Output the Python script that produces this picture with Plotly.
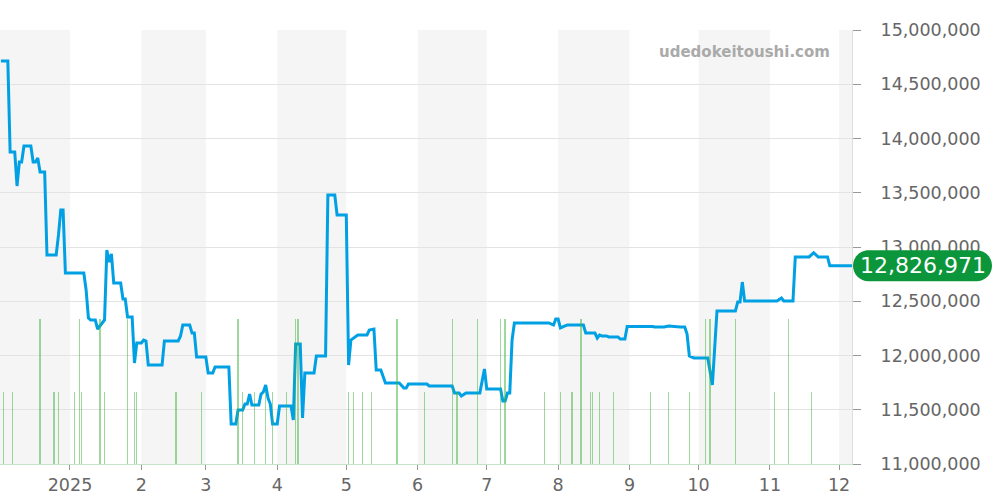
import pandas as pd
import plotly.graph_objects as go

# ── Data ──────────────────────────────────────────────────────────────────────

price_dates = [
    "2024-12-02", "2024-12-05", "2024-12-06", "2024-12-08", "2024-12-09", "2024-12-10",
    "2024-12-11", "2024-12-12", "2024-12-15", "2024-12-16", "2024-12-17", "2024-12-18",
    "2024-12-19", "2024-12-21", "2024-12-22", "2024-12-26", "2024-12-27", "2024-12-28",
    "2024-12-29", "2024-12-30", "2025-01-07", "2025-01-08", "2025-01-09", "2025-01-10",
    "2025-01-12", "2025-01-13", "2025-01-14", "2025-01-16", "2025-01-17", "2025-01-18",
    "2025-01-19", "2025-01-20", "2025-01-23", "2025-01-24", "2025-01-25", "2025-01-26",
    "2025-01-28", "2025-01-29", "2025-01-30", "2025-02-01", "2025-02-02", "2025-02-03",
    "2025-02-04", "2025-02-10", "2025-02-11", "2025-02-17", "2025-02-18", "2025-02-19",
    "2025-02-22", "2025-02-23", "2025-02-24", "2025-02-25", "2025-03-01", "2025-03-02",
    "2025-03-04", "2025-03-05", "2025-03-11", "2025-03-12", "2025-03-14", "2025-03-15",
    "2025-03-17", "2025-03-18", "2025-03-19", "2025-03-20", "2025-03-21", "2025-03-24",
    "2025-03-25", "2025-03-26", "2025-03-27", "2025-03-28", "2025-03-29", "2025-03-30",
    "2025-04-01", "2025-04-02", "2025-04-07", "2025-04-08", "2025-04-09", "2025-04-11",
    "2025-04-12", "2025-04-13", "2025-04-17", "2025-04-18", "2025-04-22", "2025-04-23",
    "2025-04-26", "2025-04-27", "2025-05-01", "2025-05-02", "2025-05-03", "2025-05-05",
    "2025-05-06", "2025-05-10", "2025-05-11", "2025-05-13", "2025-05-14", "2025-05-16",
    "2025-05-18", "2025-05-24", "2025-05-26", "2025-05-27", "2025-05-28", "2025-06-05",
    "2025-06-06", "2025-06-16", "2025-06-17", "2025-06-19", "2025-06-20", "2025-06-22",
    "2025-06-28", "2025-06-30", "2025-07-01", "2025-07-07", "2025-07-08", "2025-07-09",
    "2025-07-10", "2025-07-11", "2025-07-12", "2025-07-13", "2025-07-28", "2025-07-30",
    "2025-07-31", "2025-08-01", "2025-08-02", "2025-08-04", "2025-08-05", "2025-08-12",
    "2025-08-13", "2025-08-17", "2025-08-18", "2025-08-19", "2025-08-20", "2025-08-22",
    "2025-08-23", "2025-08-27", "2025-08-28", "2025-08-30", "2025-08-31", "2025-09-11",
    "2025-09-12", "2025-09-16", "2025-09-18", "2025-09-23", "2025-09-25", "2025-09-26",
    "2025-09-27", "2025-09-29", "2025-10-05", "2025-10-07", "2025-10-09", "2025-10-17",
    "2025-10-18", "2025-10-19", "2025-10-20", "2025-10-21", "2025-11-04", "2025-11-06",
    "2025-11-07", "2025-11-11", "2025-11-12", "2025-11-18", "2025-11-20", "2025-11-22",
    "2025-11-26", "2025-11-27", "2025-12-07",
]

prices = [
    14714000, 14714000, 13876000, 13876000, 13562000, 13783000,
    13783000, 13931000, 13931000, 13783000, 13783000, 13820000,
    13691000, 13691000, 12926000, 12926000, 13111000, 13341000,
    13341000, 12760000, 12760000, 12604000, 12346000, 12327000,
    12327000, 12244000, 12272000, 12327000, 12972000, 12862000,
    12936000, 12668000, 12668000, 12521000, 12521000, 12355000,
    12355000, 11931000, 12115000, 12115000, 12143000, 12134000,
    11912000, 11912000, 12134000, 12134000, 12180000, 12281000,
    12281000, 12207000, 12207000, 11986000, 11986000, 11839000,
    11839000, 11894000, 11894000, 11369000, 11369000, 11498000,
    11498000, 11553000, 11553000, 11645000, 11544000, 11544000,
    11645000, 11664000, 11728000, 11608000, 11553000, 11369000,
    11369000, 11535000, 11535000, 11406000, 12106000, 12106000,
    11424000, 11839000, 11839000, 11995000, 11995000, 13479000,
    13479000, 13295000, 13295000, 11912000, 12143000, 12171000,
    12189000, 12189000, 12235000, 12244000, 11866000, 11866000,
    11747000, 11747000, 11701000, 11701000, 11737000, 11737000,
    11719000, 11719000, 11654000, 11654000, 11627000, 11654000,
    11654000, 11876000, 11691000, 11691000, 11581000, 11581000,
    11654000, 11654000, 12143000, 12300000, 12300000, 12281000,
    12336000, 12336000, 12254000, 12272000, 12281000, 12281000,
    12207000, 12207000, 12161000, 12189000, 12180000, 12180000,
    12171000, 12171000, 12152000, 12152000, 12268000, 12268000,
    12263000, 12263000, 12272000, 12263000, 12263000, 12198000,
    11995000, 11977000, 11977000, 11728000, 12410000, 12410000,
    12493000, 12493000, 12677000, 12502000, 12502000, 12530000,
    12502000, 12502000, 12908000, 12908000, 12947000, 12908000,
    12908000, 12826971, 12826971,
]

volume_dates = [
    "2024-12-03", "2024-12-07", "2024-12-19", "2024-12-25", "2024-12-27", "2025-01-03",
    "2025-01-05", "2025-01-06", "2025-01-14", "2025-01-16", "2025-01-26", "2025-01-29",
    "2025-01-30", "2025-02-16", "2025-02-27", "2025-03-15", "2025-03-17", "2025-03-22",
    "2025-03-27", "2025-03-30", "2025-04-05", "2025-04-09", "2025-04-10", "2025-05-02",
    "2025-05-04", "2025-05-08", "2025-05-12", "2025-05-23", "2025-06-04", "2025-06-16",
    "2025-06-18", "2025-06-27", "2025-07-07", "2025-07-09", "2025-07-26", "2025-08-02",
    "2025-08-07", "2025-08-11", "2025-08-15", "2025-08-16", "2025-08-19", "2025-08-25",
    "2025-09-10", "2025-09-18", "2025-09-27", "2025-10-04", "2025-10-06", "2025-10-17",
    "2025-11-03", "2025-11-09", "2025-11-19",
]

volumes = [
    1, 1, 2, 1, 1, 1,
    2, 1, 2, 1, 2, 1,
    1, 1, 1, 2, 1, 1,
    1, 1, 1, 2, 2, 1,
    1, 1, 1, 2, 1, 2,
    1, 2, 2, 2, 1, 1,
    1, 2, 1, 1, 1, 1,
    1, 1, 1, 2, 2, 2,
    1, 2, 1,
]

month_starts = pd.date_range("2024-12-01", "2025-12-01", freq="MS")
month_labels = ["", "2025", "2", "3", "4", "5", "6", "7", "8", "9", "10", "11", "12"]

last_price = prices[-1]
x_range = ["2024-12-01 14:24", "2025-12-06 15:20"]

# ── Styling ───────────────────────────────────────────────────────────────────

LINE_COLOUR = "#00a0e4"
BAR_COLOUR = "rgba(60,180,60,0.5)"
BADGE_COLOUR = "#0b963b"
FONT = "DejaVu Sans"

fig = go.Figure()

fig.add_trace(go.Bar(
    x=volume_dates,
    y=volumes,
    yaxis="y2",
    width=86400000 * 0.6,
    marker=dict(color=BAR_COLOUR, line_width=0),
    hoverinfo="skip",
))

fig.add_trace(go.Scatter(
    x=price_dates,
    y=prices,
    mode="lines",
    line=dict(color=LINE_COLOUR, width=3),
    hovertemplate="%{x}<br>%{y:,}<extra></extra>",
))

# alternating month shading
shapes = []
end_limit = pd.Timestamp(x_range[1])
for i, start in enumerate(month_starts):
    if i % 2 == 0:
        end = min(start + pd.offsets.MonthBegin(1), end_limit)
        shapes.append(dict(
            type="rect", xref="x", yref="paper",
            x0=start, x1=end, y0=0, y1=1,
            fillcolor="#f5f5f5", line_width=0, layer="below",
        ))

# pill-shaped badge for latest price (pixel path anchored at the last value)
r, k = 15.5, 8.56
left_c, right_c = 1 + r, 140 - r
badge_path = (
    f"M {left_c},{-r} L {right_c},{-r} "
    f"C {right_c + k},{-r} {right_c + r},{-k} {right_c + r},0 "
    f"C {right_c + r},{k} {right_c + k},{r} {right_c},{r} "
    f"L {left_c},{r} "
    f"C {left_c - k},{r} {left_c - r},{k} {left_c - r},0 "
    f"C {left_c - r},{-k} {left_c - k},{-r} {left_c},{-r} Z"
)
shapes.append(dict(
    type="path", xref="paper", yref="y",
    xsizemode="pixel", ysizemode="pixel",
    xanchor=1, yanchor=last_price,
    path=badge_path,
    fillcolor=BADGE_COLOUR, line_width=0, layer="above",
))

fig.update_layout(
    width=1000,
    height=500,
    margin=dict(l=0, r=148, t=30, b=36),
    plot_bgcolor="white",
    paper_bgcolor="white",
    showlegend=False,
    bargap=0,
    font=dict(family=FONT, color="#666666", size=17.5),
    shapes=shapes,
    xaxis=dict(
        type="date",
        range=x_range,
        tickvals=month_starts,
        ticktext=month_labels,
        ticks="outside",
        ticklen=5,
        tickcolor="#999999",
        showgrid=False,
        showline=True,
        linecolor="#c8e2c8",
        zeroline=False,
    ),
    yaxis=dict(
        side="right",
        range=[11000000, 15000000],
        dtick=500000,
        tickformat=",",
        ticks="outside",
        ticklen=8,
        tickcolor="#999999",
        ticklabelstandoff=16,
        showgrid=True,
        gridcolor="#e3e3e3",
        showline=True,
        linecolor="#dddddd",
        zeroline=False,
    ),
    yaxis2=dict(
        overlaying="y",
        range=[0, 6],
        visible=False,
    ),
    annotations=[
        dict(
            xref="paper", yref="y", x=1, y=last_price,
            xanchor="center", yanchor="middle", xshift=70.5,
            text=f"{last_price:,}", showarrow=False,
            font=dict(family=FONT, size=22, color="white"),
        ),
        dict(
            xref="paper", yref="paper", x=0.977, y=0.95,
            xanchor="right", yanchor="middle",
            text="<b>udedokeitoushi.com</b>", showarrow=False,
            font=dict(family=FONT, size=15, color="#aaaaaa"),
        ),
    ],
)

fig.write_html(
    "out.html",
    config={"displayModeBar": False},
    post_script="document.body.style.margin='0';",
)
